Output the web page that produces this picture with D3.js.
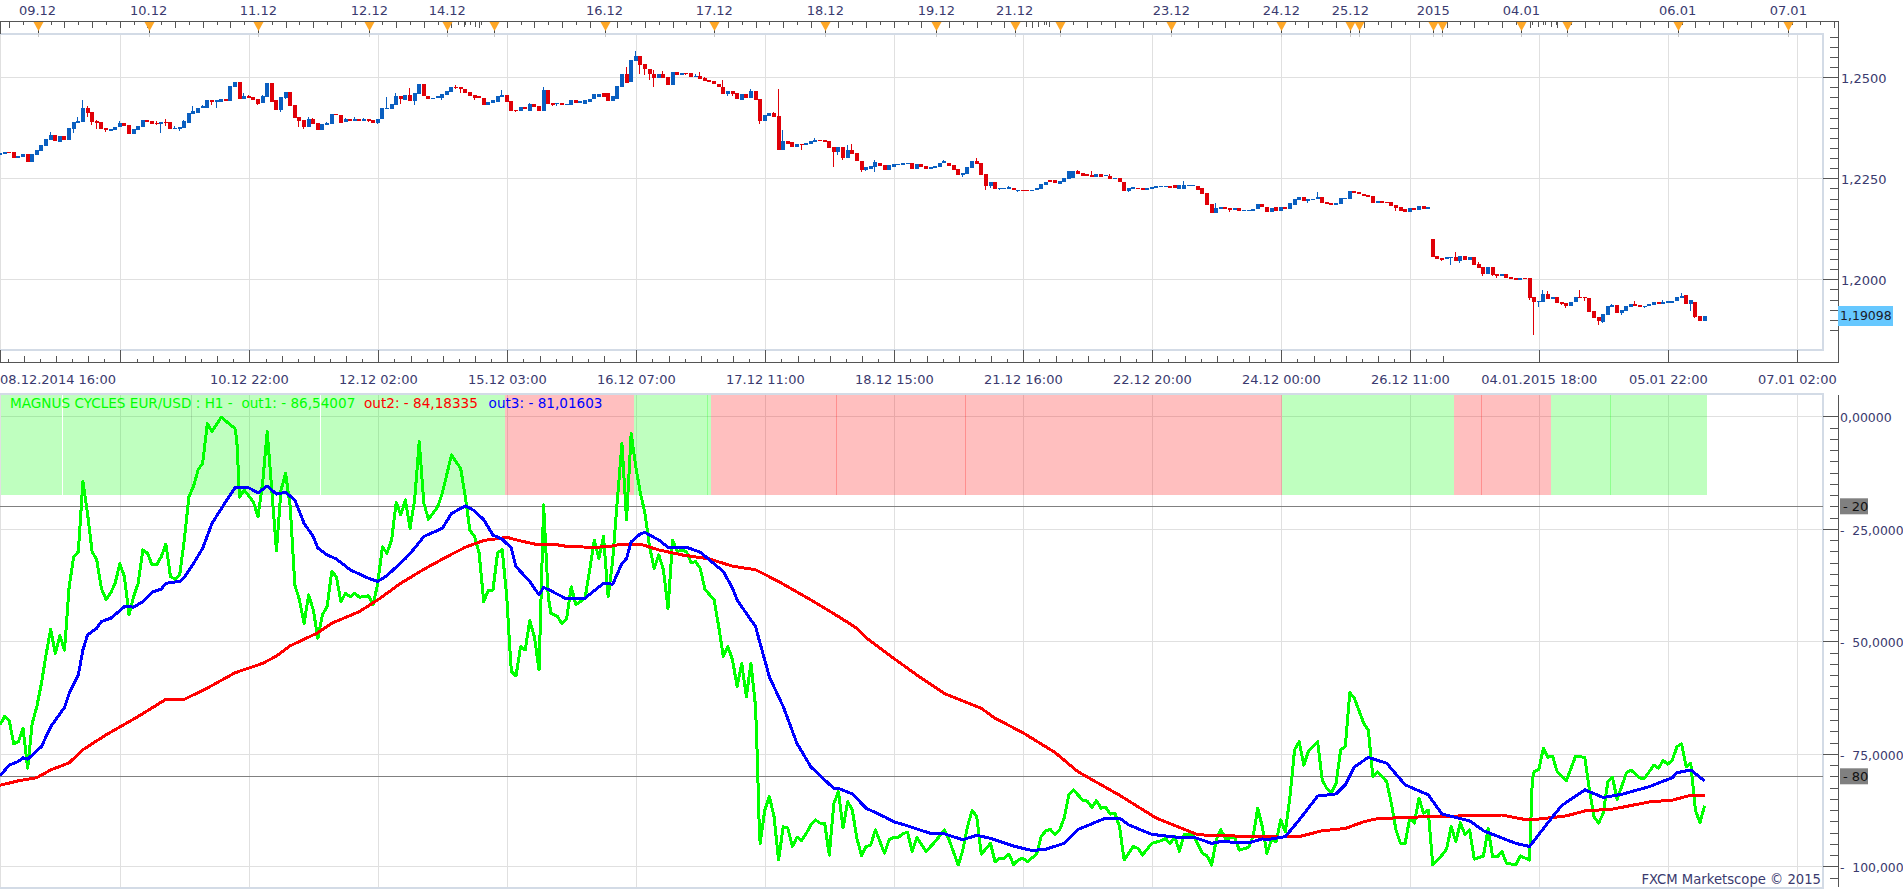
<!DOCTYPE html>
<html>
<head>
<meta charset="utf-8">
<title>EUR/USD H1 with Magnus Cycles</title>
<script src="https://d3js.org/d3.v7.min.js"></script>
<style>
html,body{margin:0;padding:0;background:#fff;overflow:hidden}
svg{display:block}
text{font-family:"DejaVu Sans",sans-serif;font-size:13px;fill:#3a3a6e;white-space:pre}
</style>
</head>
<body>
<svg id="chart" width="1903" height="889"></svg>
<script>
// Quotes are in 1/10000 of a dollar, one entry per bar.
const opens = [12307,12311,12315,12315,12301,12302,12310,12291,12308,12318,
12330,12345,12358,12341,12355,12345,12372,12387,12390,12424,
12414,12391,12389,12374,12368,12369,12376,12387,12382,12359,
12369,12378,12394,12392,12387,12385,12389,12390,12373,12373,
12374,12387,12409,12412,12423,12424,12443,12440,12440,12446,
12442,12477,12488,12447,12453,12452,12446,12436,12451,12486,
12443,12418,12448,12463,12431,12401,12394,12377,12397,12387,
12370,12382,12385,12409,12406,12390,12396,12392,12396,12392,
12396,12395,12387,12397,12421,12421,12431,12453,12443,12456,
12441,12458,12483,12453,12446,12448,12448,12456,12464,12477,
12475,12472,12463,12455,12453,12448,12431,12436,12439,12451,
12455,12441,12420,12417,12426,12417,12434,12429,12416,12468,
12436,12433,12436,12431,12432,12443,12436,12435,12440,12447,
12452,12460,12460,12441,12447,12477,12508,12488,12540,12552,
12533,12521,12508,12499,12508,12500,12481,12513,12506,12510,
12510,12500,12503,12499,12493,12491,12483,12476,12458,12466,
12460,12445,12458,12448,12467,12446,12391,12403,12412,12404,
12320,12342,12340,12327,12335,12332,12335,12340,12345,12344,
12342,12328,12315,12327,12300,12320,12312,12294,12270,12274,
12278,12289,12283,12270,12279,12283,12283,12285,12287,12273,
12286,12281,12274,12276,12278,12287,12289,12283,12273,12258,
12260,12275,12292,12288,12260,12231,12241,12223,12223,12223,
12227,12218,12222,12222,12219,12221,12223,12234,12246,12245,
12237,12241,12249,12250,12268,12262,12260,12258,12253,12260,
12255,12255,12248,12250,12241,12218,12224,12227,12227,12222,
12224,12227,12228,12229,12232,12233,12224,12223,12232,12231,
12232,12226,12213,12186,12165,12175,12179,12176,12171,12176,
12169,12170,12170,12173,12186,12179,12167,12178,12170,12179,
12175,12185,12197,12203,12194,12196,12198,12203,12191,12189,
12184,12186,12199,12199,12218,12216,12212,12209,12206,12189,
12194,12192,12191,12184,12179,12173,12167,12176,12172,12181,
12175,12100,12058,12053,12051,12053,12056,12045,12058,12048,
12054,12038,12030,12013,12030,12012,12009,12012,12005,12002,
11999,12002,12003,11955,11945,11944,11964,11952,11955,11944,
11941,11933,11944,11957,11956,11954,11922,11906,11895,11911,
11932,11936,11916,11921,11931,11939,11936,11931,11933,11936,
11943,11940,11941,11942,11946,11953,11961,11939,11944,11910,11898];

const closes = [12312,12314,12313,12301,12306,12310,12291,12310,12320,12333,
12347,12358,12342,12355,12345,12374,12389,12392,12424,12411,
12389,12387,12372,12369,12371,12377,12387,12380,12359,12372,
12379,12394,12390,12384,12386,12389,12387,12372,12374,12377,
12392,12411,12416,12425,12429,12443,12439,12443,12446,12442,
12478,12489,12447,12453,12449,12444,12435,12453,12486,12439,
12418,12451,12463,12429,12400,12392,12377,12396,12384,12370,
12385,12387,12409,12406,12388,12396,12391,12396,12392,12396,
12393,12387,12398,12424,12425,12434,12453,12446,12456,12441,
12461,12483,12453,12446,12449,12453,12458,12466,12475,12475,
12472,12461,12454,12449,12448,12431,12439,12443,12453,12456,
12439,12416,12418,12427,12422,12434,12426,12417,12468,12434,
12432,12436,12432,12434,12443,12436,12442,12443,12447,12458,
12459,12452,12441,12453,12478,12508,12486,12542,12552,12531,
12521,12508,12499,12508,12499,12481,12513,12505,12510,12508,
12500,12504,12495,12491,12489,12483,12476,12458,12466,12458,
12446,12458,12448,12466,12443,12392,12406,12411,12402,12320,
12342,12336,12327,12335,12333,12338,12342,12345,12342,12341,
12325,12315,12327,12300,12320,12311,12293,12270,12277,12280,
12291,12281,12270,12282,12285,12286,12288,12288,12273,12286,
12278,12273,12278,12281,12288,12292,12281,12270,12258,12264,
12279,12292,12285,12257,12231,12241,12223,12225,12225,12228,
12220,12221,12220,12219,12222,12227,12236,12242,12241,12239,
12243,12251,12268,12268,12260,12256,12256,12253,12261,12253,
12257,12248,12250,12241,12218,12227,12228,12226,12222,12225,
12229,12230,12231,12232,12226,12225,12233,12234,12234,12233,
12222,12212,12184,12165,12177,12179,12175,12171,12176,12170,
12171,12171,12175,12186,12178,12167,12176,12170,12179,12173,
12190,12198,12203,12194,12198,12200,12203,12189,12186,12185,
12188,12201,12201,12218,12214,12211,12206,12204,12189,12194,
12190,12189,12182,12176,12169,12167,12176,12172,12181,12175,
12179,12055,12050,12049,12054,12054,12045,12058,12048,12055,
12035,12028,12012,12030,12011,12008,12012,12004,12001,11999,
12002,12000,11953,11944,11947,11964,11951,11957,11941,11939,
11935,11945,11957,11955,11953,11919,11904,11897,11914,11934,
11936,11917,11923,11934,11939,11935,11932,11934,11938,11943,
11938,11945,11946,11946,11955,11959,11939,11948,11907,11898,11909.8];

// Wicks that reach beyond the body; every other bar ends at its body.
const highBars = [11,17,18,19,21,26,34,36,38,40,42,44,53,54,57,67,68,71,75,77,79,84,86,89,99,109,115,118,136,138,142,144,151,152,153,157,163,168,169,170,177,184,185,190,205,212,217,219,234,237,241,257,264,286,316,321,335,336,343,350,355,361,365];
const highs = [12364,12401,12443,12430,12394,12391,12392,12396,12379,12394,12430,12431,12460,12457,12456,12402,12399,12390,12400,12401,12399,12451,12460,12473,12481,12468,12437,12475,12525,12564,12518,12515,12507,12514,12500,12493,12472,12415,12471,12369,12349,12332,12335,12295,12296,12300,12227,12231,12270,12268,12260,12243,12189,12216,12068,12042,11974,11970,11974,11938,11946,11950,11966];
const lowBars = [16,19,20,21,23,34,35,36,38,39,46,47,56,61,62,65,66,80,82,87,90,96,99,100,103,112,120,121,139,140,141,142,149,158,159,165,174,181,182,183,187,188,190,209,214,215,217,221,245,267,284,303,313,315,317,322,324,325,332,333,334,339,340,344,347,348,352,357,367,368];
const lows = [12363,12401,12382,12373,12364,12381,12363,12379,12371,12366,12431,12424,12431,12415,12447,12378,12373,12390,12384,12433,12431,12445,12472,12461,12443,12414,12429,12429,12508,12506,12494,12476,12505,12453,12454,12384,12320,12279,12307,12295,12265,12269,12265,12254,12221,12225,12220,12217,12217,12167,12189,12169,12046,12035,12040,12009,12009,12004,11950,11862,11931,11936,11928,11946,11887,11893,11912,11928,11922,11905];

// Indicator lines: bar position and value, read at the turning points.
const out1Bars = [0,1,2,3,4,5,6,7,8,9,10,11,12,13,14,15,16,17,18,19,20,21,22,23,24,25,26,27,28,29,30,31,32,33,34,35,36,37,38,39,40,41,42,43,44,45,46,48,51,51.4,52,53,55,56,57,58,59,60,61,62,63,64,65,66,67,68,69,70,71,72,73,74,75,76,77,78,80,81,82,83,84,85,86,87,88,89,90,91,92,93,95,96,98,100,101,102,103,104,105,106,107,108,109,110,110.6,111,112,113,114,115,116,117,118,119,119.6,121,122,123,124,125,127,128,129,130,131,132,133,134,135,136,137,138,139,140,141,142,143,144,145,146,147,148,149,150,151,152,153,155,156,157,158,159,160,161,162,163,164,164.4,164.8,165,166,167,168,169,170,171,172,173,174,175,176,177,178,179,180,181,182,183,184,185,186,187,188,189,190,191,192,193,194,195,196,197,198,199,201,203,205,206,208,209,210,211,212,213,215,216,217,218,219,220,221,222,223,225,226,227,228,229,230,231,232,233,235,236,237,238,239,240,241,242,243,244,245,246,247,248,250,252,253,254,255,256,257,259,261,262,263,264,265,266,268,269,271,272,273,274,275,276,277,278,279,280,281,282,283,284,286,287,288,289,290,291,292,293,294,296,297,298,299,301,302,303,304,305,306,307,308,309,310,311,313,314,315,316,317,318,319,320,322,323,324,325,326,327,329,330,332,332.6,333,334,335,336,337,338,340,342,344,345,346,347,348,349,350,351,352,353,354,356,357,359,360,361,362,363,364,365,366,367,368,369,370];
const out1Values = [68.6,66.7,67.6,72.8,72.3,69.3,78.2,68.2,64.5,59.3,53,47.3,52.7,48.7,52,38,31.2,30.1,14.5,21.6,30.1,31.9,38.2,40.7,39.3,37.1,32.7,35.6,44.1,40.1,37.1,29.7,30.4,33,33,31.2,28.4,35.6,36.2,35.3,27.5,17.9,15.6,11.9,10.4,1.6,3.4,0.2,2.7,5.3,18,16.4,19,22.3,14.9,3.4,16.4,29.9,16.4,12.7,20.1,37.5,40.8,46,39.7,43,49.3,44.1,42.3,34.5,35.6,41.2,39.3,40.1,39.3,40.2,39.9,41.9,37.1,29,30.4,27.5,19.1,21.9,18.6,24.9,18.6,5.6,19.3,22.9,20.1,17.1,8.6,11.6,17.9,25.3,26.7,30.4,41.2,38.6,38.6,30.4,29.6,40.1,50.5,56.7,57.7,51.2,51.9,45.4,49,56.4,19.7,40.1,43.8,44.5,46.1,44.9,37.9,41.9,40.4,34.1,27.5,31.6,26.7,40.1,31.9,18.6,6.1,23,3.8,11.2,17,21.6,29,33.8,30.8,34.1,42.7,27.5,30.1,29.7,30.1,32.5,32.3,33.8,38.4,40.8,46.7,53.4,51.2,54.1,60.1,54.9,62.3,54.9,64.5,76.4,91.2,94.9,87.5,84.5,88.9,98.6,91.2,91.5,95.6,93.5,94.3,92.7,90.8,89.7,90.4,90.4,97.5,86,83.4,91.5,85.6,87.5,93.8,97.6,95.6,95.3,91.9,94.5,97.1,94.1,93.6,93.6,92.7,92.5,96.7,93.6,96.7,94.5,91.9,94.1,99.7,96.4,91.2,87.6,88.9,97.3,94.9,99,98.2,98.2,97.3,99.6,98.6,98.2,99,97.3,93.4,92.1,91.8,93,91.9,89.3,84.1,83,85.3,85.5,86.9,85.4,87.1,86.9,88.4,88.2,91.2,98.6,97.1,95.6,96,97.5,94.9,94.3,93.8,95,93.4,96.7,93,93,97.1,97.7,99.7,94.1,91.9,93.8,93.6,96.4,95.8,93.4,87.1,91.2,97.1,94.1,94.5,89.7,92.3,84.5,74.1,72.3,77.5,74.5,72.3,80.8,82.7,83.6,81.6,74.1,73.4,61.4,62.7,68.2,69.7,80.1,79,81.2,86,91.9,94.9,94.9,89.3,90.4,84.9,88.2,87.5,99.7,97.5,96.2,91.2,94.5,90.3,93,91.9,98.4,97.7,91.6,97.9,97.9,96.7,99.3,99.7,97.7,98.6,80.8,79,78.5,73.8,75.8,75.5,79,81,75.5,75.8,83,89,90.4,88.2,81.2,80.2,85.1,82.3,79.3,78.6,80.4,80.4,77.5,78.2,76.5,77.3,76.4,73.4,72.8,77.9,77.1,87.5,90.3,86.54007];

const out2Bars = [0,4,8,11,15,18,23,30,36,40,45,51,57,60,63,69,72,78,82,87,92,97,101,105,110,113,117,120,123,128,132,135,139,143,148,154,159,164,169,176,182,186,188,194,200,205,213,216,222,229,234,243,251,260,272,278,282,287,292,296,299,309,326,331,334,340,344,350,358,363,367,370];
const out2Values = [82,81,80.3,78.6,77,74.1,70.8,66.7,62.9,62.9,60.4,57,54.9,53.3,51,48.1,46,43.4,40.8,37.1,34,31.2,29.1,27.6,26.9,27.7,28.6,28.4,28.9,29.1,29,28.4,28.4,29.7,30.8,31.7,33.3,34.1,36.7,40.8,44.5,47.1,49.2,53.8,58.2,61.6,64.9,67.1,70.3,74.7,79,84.2,89.3,93,93.4,93.5,93.4,92.1,91.6,90.1,89.4,89,88.6,89.6,89.5,88.8,87.7,87.3,85.7,85.3,84.2,84.18335];

const out3Bars = [0,2,4,5,6,9,11,14,15,17,18,19,21,22,24,26,27,29,31,33,35,36,39,40,42,44,46,49,51,54,56,58,60,62,64,66,68,69,71,73,76,80,82,84,88,90,92,96,98,101,103,105,107,109,111,112,115,117,118,120,123,127,131,133,135,136,137,139,140,143,145,149,152,157,159,160,162,164,165,167,170,173,176,179,181,182,185,188,192,194,197,202,205,209,212,215,220,224,227,231,234,240,243,245,250,256,259,263,265,271,274,275,279,282,286,290,292,294,297,301,305,310,313,319,322,329,332,337,339,344,348,352,358,363,364,367,370];
const out3Values = [79.9,77.5,76.7,75.9,76.2,73.4,69,64.7,61.6,57.5,51.9,48.6,47.1,45.6,44.9,43.2,42.3,42.4,41.2,39.1,38.4,37.1,36.7,35.8,32.7,29.3,23.8,19,15.9,15.9,17,15.5,17.3,16.9,18.6,23.8,26.7,29.3,30.8,31.7,34.1,36,36.7,35.4,31.6,29.3,26.7,24.9,21.6,19.9,21,23,26.4,27.3,29.3,33.4,36.7,39.7,38,39,40.6,40.4,37.1,37.3,32.7,31.6,27.9,26.1,25.8,27.5,29.1,29.1,30.2,34.5,38.2,40.8,43.8,46.7,50.5,57.9,64.5,72.7,77.9,80.8,82.7,82.7,83.9,87.1,89,90.1,91,92.7,92.8,94.1,93.1,93.8,95.5,96.5,96.2,94.9,91.8,89.3,89.3,90.8,92.9,93.6,93.5,94.9,94.5,94.8,93.9,94.1,93.4,89.7,84.4,83.9,81.9,77.9,75.8,77.1,81.9,84.1,88.4,89.9,92.1,94.9,95.6,89,86.5,83,84.7,84,82.3,80.3,79.2,78.6,81.01603];

// Background signal bands, each running up to the bar in bandEnds.
const bandEnds = [109.6,137.6,154.4,278.3,315.6,336.7,370.5];
const bandSignals = ["up","down","up","down","up","down","up"];
// Joins between band pieces: gaps show white, overlaps show a deeper tint.
const seamGaps = [13.54,69.54];
const seamOverlaps = [153.54,181.54,209.54,321.54,349.54];
const seamFaint = [41.54];

const gridBars = [26.13,54.13,82.13,110.13,138.13,166.13,194.13,222.13,250.13,278.13,306.13,334.13,362.13,390.13];
const gridLabels = ["08.12.2014 16:00","10.12 22:00","12.12 02:00","15.12 03:00","16.12 07:00","17.12 11:00","18.12 15:00","21.12 16:00","22.12 20:00","24.12 00:00","26.12 11:00","04.01.2015 18:00","05.01 22:00","07.01 02:00"];

// Session markers on the upper ruler; blank names are unlabelled sessions.
const sessionBars = [8.14,32.26,56.09,80.18,97.09,107.13,131.22,155.04,179.14,203.24,220.25,230.17,254.27,278.14,293.1,295.05,311.1,313.04,330.24,340.15,364.16,388.17];
const sessionLabels = ["09.12","10.12","11.12","12.12","14.12","","16.12","17.12","18.12","19.12","21.12","","23.12","24.12","25.12","","2015","","04.01","","06.01","07.01"];
const weekendTickBars = [99.5,100.7,102.1,103.2,104.5,222.6,224,225.3,226.6,227.7,332.6,333.9,335.3,336.6,337.7];

const priceTicks = [12500,12250,12000];
const oscTicks = [0,25,50,75,100];
const oscLevels = [20,80];
const footer = "FXCM Marketscope \u00a9 2015";

const colors = {up:"#0a5fc0",down:"#e00008",band:{up:"rgba(0,255,0,.25)",down:"rgba(255,0,0,.25)"},
  grid:"#e0e0e0",frame:"#d3dbe6",axis:"#555",level:"#808080",out1:"#00ff00",out2:"#ff0000",out3:"#0000ff"};

const frameRight = 1823, axisRight = 1837.5;
const svg = d3.select("#chart");
const x = d3.scaleLinear().domain([0,370]).range([0,1704.6]);
const yPrice = d3.scaleLinear().domain([12500,12000]).range([77.3,279.3]);
const yOsc = d3.scaleLinear().domain([0,100]).range([416.3,866.3]);
const px = v => Math.round(x(v));
const crisp = g => g.attr("shape-rendering","crispEdges");

function priceLabel(v,digits){ return (v/10000).toFixed(digits).replace(".",","); }

// Grid lines of both panels.
const grid = svg.append("g").call(crisp);
function vGrid(top,bottom){
  grid.selectAll(null).data(gridBars).join("rect")
    .attr("x",d=>px(d)).attr("y",top).attr("width",1).attr("height",bottom-top).attr("fill",colors.grid);
}
vGrid(35,349); vGrid(395,887);
grid.selectAll(null).data(priceTicks).join("rect")
  .attr("x",0).attr("width",frameRight).attr("y",d=>Math.round(yPrice(d))).attr("height",1).attr("fill",colors.grid);
grid.selectAll(null).data(oscTicks).join("rect")
  .attr("x",0).attr("width",frameRight).attr("y",d=>Math.round(yOsc(d))).attr("height",1).attr("fill",colors.grid);

// Signal bands behind the oscillator.
const bands = svg.append("g").call(crisp);
const bandTop = 395, bandBottom = 495;
bands.selectAll(null).data(bandEnds).join("rect")
  .attr("x",(d,i)=> i? px(bandEnds[i-1]) : 0)
  .attr("width",(d,i)=> px(d)-(i? px(bandEnds[i-1]) : 0))
  .attr("y",bandTop).attr("height",bandBottom-bandTop)
  .attr("fill",(d,i)=>colors.band[bandSignals[i]]);
function bandAt(b){ return bandSignals[bandEnds.findIndex(e=>b<e)]; }
bands.selectAll(null).data(seamGaps).join("rect")
  .attr("x",d=>px(d)).attr("width",1).attr("y",bandTop).attr("height",bandBottom-bandTop).attr("fill","#fff");
bands.selectAll(null).data(seamOverlaps).join("rect")
  .attr("x",d=>px(d)).attr("width",1).attr("y",bandTop).attr("height",bandBottom-bandTop).attr("fill",d=>colors.band[bandAt(d)]);
bands.selectAll(null).data(seamFaint).join("rect")
  .attr("x",d=>px(d)).attr("width",1).attr("y",bandTop).attr("height",bandBottom-bandTop).attr("fill","rgba(0,0,0,.12)");

// Panel frames.
const frames = svg.append("g").call(crisp).attr("fill",colors.frame);
frames.append("rect").attr("x",0).attr("y",33).attr("width",frameRight+1).attr("height",2);
frames.append("rect").attr("x",0).attr("y",349).attr("width",frameRight+1).attr("height",2);
frames.append("rect").attr("x",frameRight-1).attr("y",33).attr("width",2).attr("height",318);
frames.append("rect").attr("x",0).attr("y",393).attr("width",frameRight+1).attr("height",2);
frames.append("rect").attr("x",0).attr("y",887).attr("width",frameRight+1).attr("height",2);
frames.append("rect").attr("x",frameRight-1).attr("y",393).attr("width",2).attr("height",496);
frames.append("rect").attr("x",0).attr("y",35).attr("width",1).attr("height",314).attr("fill",colors.grid);
frames.append("rect").attr("x",0).attr("y",395).attr("width",1).attr("height",492).attr("fill",colors.grid);

// Candles.
const candles = svg.append("g").call(crisp);
const highByBar = new Map(highBars.map((b,i)=>[b,highs[i]]));
const lowByBar = new Map(lowBars.map((b,i)=>[b,lows[i]]));
const bars = opens.map((o,i)=>({i,o,c:closes[i],
  h:highByBar.has(i)?highByBar.get(i):Math.max(o,closes[i]),
  l:lowByBar.has(i)?lowByBar.get(i):Math.min(o,closes[i])}));
candles.selectAll("rect.wick").data(bars).join("rect").attr("class","wick")
  .attr("x",d=>px(d.i)-1).attr("width",1)
  .attr("y",d=>Math.round(yPrice(d.h))).attr("height",d=>Math.max(1,Math.round(yPrice(d.l))-Math.round(yPrice(d.h))))
  .attr("fill",d=>d.c>=d.o?colors.up:colors.down);
candles.selectAll("rect.body").data(bars).join("rect").attr("class","body")
  .attr("x",d=>px(d.i)-2).attr("width",4)
  .attr("y",d=>Math.round(yPrice(Math.max(d.o,d.c))))
  .attr("height",d=>Math.max(1,Math.round(yPrice(Math.min(d.o,d.c)))-Math.round(yPrice(Math.max(d.o,d.c)))))
  .attr("fill",d=>d.c>=d.o?colors.up:colors.down);

// Oscillator guide levels and lines.
svg.append("g").call(crisp).selectAll(null).data(oscLevels).join("rect")
  .attr("x",0).attr("width",frameRight).attr("y",d=>Math.round(yOsc(d))).attr("height",1).attr("fill",colors.level);

const line = d3.line().x(d=>x(d[0])).y(d=>yOsc(d[1]));
[[out1Bars,out1Values,colors.out1],[out2Bars,out2Values,colors.out2],[out3Bars,out3Values,colors.out3]].forEach(([bs,vs,col])=>{
  svg.append("path").datum(bs.map((b,i)=>[b,vs[i]])).attr("d",line)
    .attr("fill","none").attr("stroke",col).attr("stroke-width",3)
    .attr("stroke-linejoin","round").attr("shape-rendering","crispEdges");
});

// Upper time ruler with its session markers.
const upper = svg.append("g").call(crisp).attr("fill",colors.axis);
upper.append("rect").attr("x",0).attr("y",21).attr("width",axisRight).attr("height",1);
upper.append("rect").attr("x",0).attr("y",22).attr("width",1).attr("height",12);
upper.selectAll(null).data(d3.range(2,400,3)).join("rect")
  .attr("x",d=>px(d)).attr("y",22).attr("width",1).attr("height",(d,i)=>i%2?3:6);
upper.selectAll(null).data(weekendTickBars).join("rect")
  .attr("x",d=>px(d)).attr("y",22).attr("width",1).attr("height",(d,i)=>i%2?5:3);
const markers = svg.append("g");
markers.selectAll("rect.stem").data(sessionBars).join("rect").attr("class","stem")
  .attr("x",d=>px(d)).attr("y",24).attr("width",1).attr("height",9).attr("fill","#444").attr("shape-rendering","crispEdges");
markers.selectAll("rect.foot").data(sessionBars).join("rect").attr("class","foot")
  .attr("x",d=>px(d)).attr("y",33).attr("width",1).attr("height",4).attr("fill","#c9c9c9").attr("shape-rendering","crispEdges");
markers.selectAll("path").data(sessionBars).join("path")
  .attr("d",d=>{const c=px(d)+.5; return `M${c-5},22H${c+5}L${c},31Z`;}).attr("fill","#ffa726");
svg.append("g").selectAll("text").data(sessionBars).join("text")
  .attr("x",d=>x(d)).attr("y",15).attr("text-anchor","middle").text((d,i)=>sessionLabels[i]);

// Lower time ruler.
const lower = svg.append("g").call(crisp).attr("fill",colors.axis);
lower.append("rect").attr("x",0).attr("y",362).attr("width",axisRight).attr("height",1);
lower.append("rect").attr("x",0).attr("y",350).attr("width",1).attr("height",12);
lower.selectAll(null).data(gridBars).join("rect")
  .attr("x",d=>px(d)).attr("y",350).attr("width",1).attr("height",12);
const minorSteps = d3.range(-7,83).filter(s=>((s%8)+8)%8!==0);
lower.selectAll(null).data(minorSteps).join("rect")
  .attr("x",s=>px(gridBars[0]+s*3.5)).attr("width",1)
  .attr("y",s=>s%2?359:356).attr("height",s=>s%2?3:6);
svg.append("g").selectAll("text").data(gridBars).join("text")
  .attr("x",(d,i)=>i?x(d):0).attr("y",384).attr("text-anchor",(d,i)=>i?"middle":"start").text((d,i)=>gridLabels[i]);

// Right-hand scales.
const right = svg.append("g").call(crisp).attr("fill",colors.axis);
right.append("rect").attr("x",axisRight).attr("y",21).attr("width",1).attr("height",342);
right.append("rect").attr("x",axisRight).attr("y",395).attr("width",1).attr("height",492);
right.selectAll(null).data(d3.range(12600,11850,-25).filter(d=>yPrice(d)>=23&&yPrice(d)<=361)).join("rect")
  .attr("x",d=>d%250===0?frameRight:1830).attr("width",d=>axisRight-(d%250===0?frameRight:1830))
  .attr("y",d=>Math.round(yPrice(d))).attr("height",1);
right.selectAll(null).data(d3.range(0,105,2.5)).join("rect")
  .attr("x",d=>d%25===0?frameRight:1830).attr("width",d=>axisRight-(d%25===0?frameRight:1830))
  .attr("y",d=>Math.round(yOsc(d))).attr("height",1);

svg.append("g").selectAll("text").data(priceTicks).join("text")
  .attr("x",1841).attr("y",d=>yPrice(d)+6).text(d=>priceLabel(d,4));
// The oscillator scale runs to the window edge, so its figures are kept short.
const oscLabels = ["0,00000","-  25,0000","-  50,0000","-  75,0000","-  100,000"];
svg.append("g").selectAll("text").data(oscTicks).join("text")
  .attr("x",1840).attr("y",d=>yOsc(d)+6)
  .style("font-size",(d,i)=>i?"12.4px":"12.5px")
  .text((d,i)=>oscLabels[i]);

// Level tags.
const tags = svg.append("g").selectAll("g").data(oscLevels).join("g");
tags.append("rect").attr("x",1840).attr("width",28).attr("y",d=>yOsc(d)-8).attr("height",16).attr("fill",colors.level);
tags.append("text").attr("x",1843).attr("y",d=>yOsc(d)+5).style("fill","#111").text(d=>`- ${d}`);

// Last-price tag, read from the final close.
const lastClose = closes[closes.length-1];
svg.append("rect").attr("x",1838).attr("y",Math.round(yPrice(lastClose))-10).attr("width",55).attr("height",20).attr("fill","#66c8ff");
svg.append("text").attr("x",1840).attr("y",yPrice(lastClose)+4.5).style("fill","#1a1a2a").style("font-size","12.5px").text(priceLabel(lastClose,5));

// Indicator header: the values are the last readings of each line.
const last = arr => arr[arr.length-1];
const fmt = v => v.toFixed(5).replace(".",",");
const header = svg.append("g").style("font-size","13.6px");
header.append("text").attr("x",10).attr("y",408).style("font-size","inherit").style("fill",colors.out1).text(`MAGNUS CYCLES EUR/USD : H1 -  out1: - ${fmt(last(out1Values))}`);
header.append("text").attr("x",364).attr("y",408).style("font-size","inherit").style("fill",colors.out2).text(`out2: - ${fmt(last(out2Values))}`);
header.append("text").attr("x",488.6).attr("y",408).style("font-size","inherit").style("fill",colors.out3).text(`out3: - ${fmt(last(out3Values))}`);

svg.append("text").attr("x",1821).attr("y",884).attr("text-anchor","end").style("font-size","13.2px").text(footer);
</script>
</body>
</html>
